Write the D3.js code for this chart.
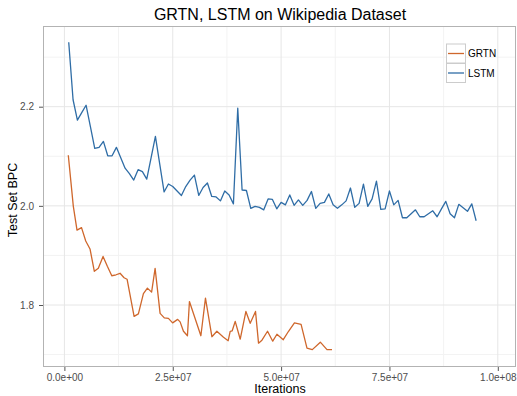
<!DOCTYPE html>
<html><head><meta charset="utf-8">
<script src="https://cdn.jsdelivr.net/npm/d3@7"></script>
<style>body{margin:0;background:#fff}svg{display:block;font-family:"Liberation Sans",Arial,Helvetica,sans-serif}</style>
</head><body><svg id="c" width="517" height="396"></svg>
<script>
// Iterations in millions
const lstmIter = d3.range(1, 96);
const lstmBPC = [2.330,2.214,2.173,2.188,2.203,2.160,2.116,2.118,2.130,2.101,
2.101,2.118,2.097,2.076,2.065,2.052,2.073,2.069,2.054,2.097,
2.140,2.084,2.028,2.044,2.039,2.030,2.021,2.039,2.052,2.062,
2.021,2.037,2.046,2.019,2.018,2.010,2.030,2.022,2.004,2.197,
2.032,2.031,1.995,1.999,1.997,1.992,2.014,2.013,1.994,2.007,
2.002,2.022,2.001,2.012,2.001,2.011,2.029,1.995,2.005,2.007,
2.024,2.002,1.995,2.002,2.010,2.036,1.997,2.005,2.044,1.999,
2.014,2.050,1.993,1.994,2.030,2.002,2.011,1.976,1.976,1.984,
1.992,1.978,1.978,1.984,1.990,1.978,1.994,2.009,1.984,1.976,
2.003,1.996,1.989,2.004,1.970];
const grtnIter = [0.9,2.06,2.91,3.95,4.92,5.91,6.91,7.83,8.92,9.91,
10.93,11.92,12.84,13.77,14.46,16.08,17.07,18.23,19.15,20.12,
20.93,22.08,23.05,24.0,24.97,26.13,26.7,27.47,28.39,28.85,
31.49,32.55,34.03,35.18,36.71,37.79,38.25,38.72,39.41,40.57,
41.88,42.87,44.1,44.79,45.58,46.87,48.07,49.04,50.5,51.72,
53.08,54.61,55.97,57.2,59.05,60.59,61.75];
const grtnBPC = [2.102,1.999,1.951,1.956,1.929,1.913,1.868,1.874,1.898,1.878,
1.859,1.861,1.864,1.855,1.852,1.777,1.782,1.823,1.834,1.826,
1.874,1.783,1.774,1.773,1.764,1.771,1.766,1.747,1.738,1.807,
1.738,1.814,1.736,1.747,1.735,1.728,1.747,1.748,1.767,1.731,
1.787,1.763,1.787,1.723,1.729,1.747,1.727,1.741,1.730,1.747,
1.764,1.761,1.713,1.710,1.725,1.710,1.710];
const seriesNames = ["GRTN","LSTM"];
const seriesColors = ["#cf672c","#2f6da6"];
const xTicks = [0,25,50,75,100];
const xTickLabels = ["0.0e+00","2.5e+07","5.0e+07","7.5e+07","1.0e+08"];
const xMinor = [12.5,37.5,62.5,87.5];
const yTicks = [1.8,2.0,2.2];
const yTickLabels = ["1.8","2.0","2.2"];
const yMinor = [1.7,1.9,2.1,2.3];

const svg = d3.select("#c");
const P = {l:43, t:26, r:516, b:367};
const x = d3.scaleLinear().domain([0,100]).range([64.4,497.8]);
const y = d3.scaleLinear().domain([1.8,2.2]).range([305,106.7]);

svg.append("rect").attr("x",P.l).attr("y",P.t).attr("width",P.r-P.l).attr("height",P.b-P.t).attr("fill","#fff");
const g = svg.append("g");
g.selectAll(".vm").data(xMinor).join("line").attr("x1",d=>x(d)).attr("x2",d=>x(d)).attr("y1",P.t).attr("y2",P.b).attr("stroke","#f3f3f3");
g.selectAll(".hm").data(yMinor).join("line").attr("y1",d=>y(d)).attr("y2",d=>y(d)).attr("x1",P.l).attr("x2",P.r).attr("stroke","#f3f3f3");
g.selectAll(".vM").data(xTicks).join("line").attr("x1",d=>x(d)).attr("x2",d=>x(d)).attr("y1",P.t).attr("y2",P.b).attr("stroke","#e6e6e6");
g.selectAll(".hM").data(yTicks).join("line").attr("y1",d=>y(d)).attr("y2",d=>y(d)).attr("x1",P.l).attr("x2",P.r).attr("stroke","#e6e6e6");

const line = d3.line().x(d=>x(d[0])).y(d=>y(d[1]));
const data = [d3.zip(grtnIter,grtnBPC), d3.zip(lstmIter,lstmBPC)];
svg.selectAll(".ser").data(data).join("path").attr("fill","none")
  .attr("stroke",(d,i)=>seriesColors[i]).attr("stroke-width",1.3).attr("stroke-linejoin","round").attr("d",line);

svg.append("rect").attr("x",P.l+0.5).attr("y",P.t+0.5).attr("width",P.r-P.l-1).attr("height",P.b-P.t-1)
  .attr("fill","none").attr("stroke","#b3b3b3");

const xa = svg.append("g").attr("transform",`translate(0,${P.b})`)
  .call(d3.axisBottom(x).tickValues(xTicks).tickFormat((d,i)=>xTickLabels[i]).tickSize(4).tickPadding(3));
const ya = svg.append("g").attr("transform",`translate(${P.l},0)`)
  .call(d3.axisLeft(y).tickValues(yTicks).tickFormat((d,i)=>yTickLabels[i]).tickSize(4).tickPadding(5));
[xa,ya].forEach(a=>{a.select(".domain").remove();
  a.selectAll("line").attr("stroke","#555");
  a.selectAll("text").attr("fill","#4d4d4d").style("font-size","10px").style("font-family","'Liberation Sans',Arial,sans-serif");});

svg.append("text").attr("x",280).attr("y",20).attr("text-anchor","middle").style("font-size","16px").attr("fill","#000").text("GRTN, LSTM on Wikipedia Dataset");
svg.append("text").attr("x",280).attr("y",393).attr("text-anchor","middle").style("font-size","12.5px").attr("fill","#000").text("Iterations");
svg.append("text").attr("transform","translate(16.5,200) rotate(-90)").attr("text-anchor","middle").style("font-size","12.5px").attr("fill","#000").text("Test Set BPC");

const lg = svg.append("g").attr("transform","translate(446,43.5)");
seriesNames.forEach((n,i)=>{
  const gy = i*19.5;
  lg.append("rect").attr("x",0.5).attr("y",gy+0.5).attr("width",19).attr("height",19).attr("fill","#fff").attr("stroke","#cccccc");
  lg.append("line").attr("x1",2).attr("x2",18).attr("y1",gy+10).attr("y2",gy+10).attr("stroke",seriesColors[i]).attr("stroke-width",1.3);
  lg.append("text").attr("x",22).attr("y",gy+13.5).style("font-size","10px").attr("fill","#000").text(n);
});
</script></body></html>
